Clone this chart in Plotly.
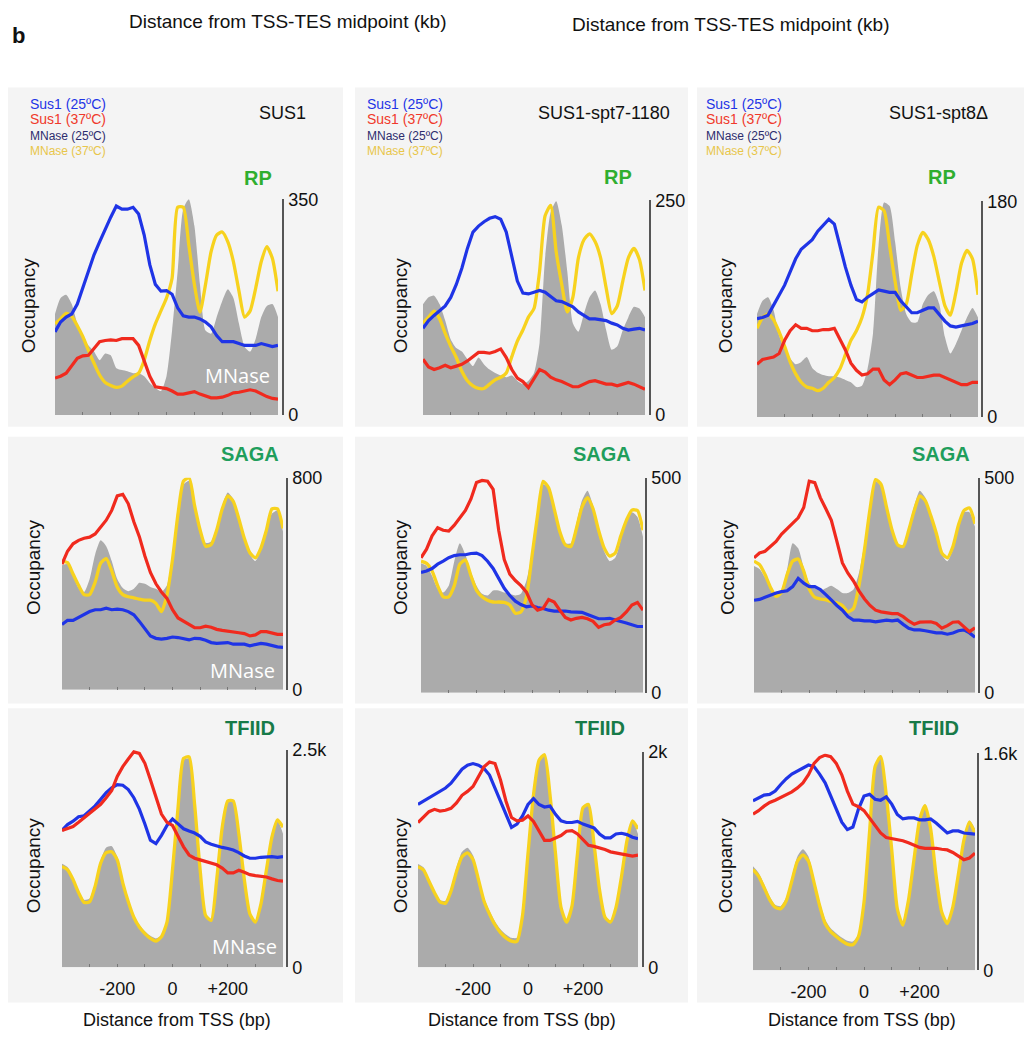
import plotly.graph_objects as go

W, H = 1024, 1043

# ---------------- data ----------------
X_BP = [-400, -380, -360, -340, -320, -300, -280, -260, -240, -220, -200, -180, -160, -140,
        -120, -100, -80, -60, -40, -20, 0, 20, 40, 60, 80, 100, 120, 140, 160, 180, 200, 220,
        240, 260, 280, 300, 320, 340, 360, 380, 400]

STRAINS = ["SUS1", "SUS1-spt7-1180", "SUS1-spt8\u0394"]
FACTORS = ["RP", "SAGA", "TFIID"]
SERIES_NAMES = ["Sus1 (25\u00baC)", "Sus1 (37\u00baC)", "MNase (25\u00baC)", "MNase (37\u00baC)"]
X_TICKS = [-300, -200, -100, 0, 100, 200, 300]
X_TICK_TEXT = ["", "-200", "", "0", "", "+200", ""]
Y_MAX = {"RP": [350, 250, 180], "SAGA": [800, 500, 500], "TFIID": [2500, 2000, 1600]}
Y_MAX_TEXT = {"RP": ["350", "250", "180"], "SAGA": ["800", "500", "500"], "TFIID": ["2.5k", "2k", "1.6k"]}

# RP / SUS1
RP_SUS1_S25 = [135, 151, 159, 164, 180, 206, 233, 260, 281, 302, 321, 339, 334, 334, 337, 326, 292, 244, 212, 201, 202, 196, 174, 161, 159, 159, 156, 151, 143, 129, 119, 119, 119, 116, 113, 113, 113, 116, 113, 111, 113]
RP_SUS1_S37 = [60, 63, 68, 81, 92, 96, 97, 108, 119, 121, 122, 121, 124, 124, 124, 113, 89, 63, 46, 44, 43, 39, 34, 34, 36, 38, 34, 31, 28, 28, 29, 32, 36, 37, 39, 41, 39, 34, 30, 27, 26]
RP_SUS1_M25 = [164, 190, 195, 180, 148, 127, 113, 103, 89, 100, 97, 76, 73, 71, 68, 68, 63, 52, 44, 39, 63, 137, 233, 334, 350, 307, 212, 137, 132, 159, 185, 204, 190, 148, 111, 103, 124, 159, 177, 180, 159]
RP_SUS1_M37 = [148, 156, 165, 160, 145, 127, 105, 84, 65, 53, 48, 45, 47, 55, 62, 68, 89, 121, 148, 169, 190, 222, 337, 337, 276, 212, 167, 212, 265, 292, 297, 281, 249, 201, 159, 169, 206, 249, 273, 254, 201]
# RP / SUS1-spt7-1180
RP_SPT7_S25 = [101, 110, 116, 122, 127, 137, 152, 171, 194, 213, 220, 225, 229, 231, 228, 213, 183, 156, 142, 141, 143, 145, 143, 138, 133, 132, 129, 126, 120, 116, 112, 112, 111, 110, 107, 105, 101, 99, 100, 101, 99]
RP_SPT7_S37 = [65, 56, 53, 55, 58, 55, 57, 59, 63, 68, 73, 73, 72, 74, 77, 67, 53, 43, 39, 32, 42, 53, 50, 44, 41, 39, 36, 33, 33, 36, 39, 40, 38, 36, 36, 34, 36, 38, 36, 33, 30]
RP_SPT7_M25 = [129, 137, 139, 129, 110, 88, 78, 74, 65, 57, 67, 59, 53, 49, 46, 44, 46, 40, 36, 40, 49, 84, 183, 236, 249, 221, 167, 107, 97, 118, 137, 145, 129, 99, 76, 80, 99, 114, 126, 124, 114]
RP_SPT7_M37 = [107, 114, 121, 112, 95, 80, 67, 51, 40, 34, 31, 31, 36, 41, 44, 49, 68, 86, 99, 114, 124, 167, 232, 244, 190, 152, 120, 137, 183, 204, 211, 202, 183, 148, 118, 127, 156, 183, 194, 181, 145]
# RP / SUS1-spt8D
RP_SPT8_S25 = [82, 83, 85, 93, 101, 110, 121, 132, 140, 144, 148, 155, 160, 165, 161, 143, 125, 110, 98, 96, 100, 103, 106, 105, 104, 104, 97, 92, 87, 87, 89, 91, 91, 85, 80, 76, 75, 76, 77, 78, 80]
RP_SPT8_S37 = [44, 48, 49, 50, 53, 64, 72, 77, 74, 74, 72, 72, 73, 73, 74, 65, 56, 45, 39, 35, 36, 40, 40, 31, 27, 31, 36, 37, 35, 33, 33, 34, 35, 35, 33, 31, 29, 27, 27, 29, 29]
RP_SPT8_M25 = [86, 97, 100, 89, 68, 57, 49, 44, 46, 50, 41, 37, 35, 34, 34, 33, 31, 29, 25, 26, 40, 70, 143, 179, 176, 146, 108, 86, 79, 79, 94, 102, 105, 94, 67, 53, 61, 72, 83, 91, 83]
RP_SPT8_M37 = [74, 83, 86, 81, 71, 59, 46, 36, 29, 25, 24, 22, 24, 29, 33, 40, 52, 64, 72, 83, 102, 138, 175, 172, 143, 113, 89, 94, 119, 143, 154, 148, 134, 113, 93, 85, 104, 128, 139, 132, 102]

# SAGA / SUS1
SAGA_SUS1_S25 = [246, 262, 262, 273, 283, 295, 302, 302, 308, 302, 304, 302, 295, 283, 258, 228, 203, 194, 191, 194, 199, 197, 191, 188, 194, 193, 187, 178, 175, 175, 178, 172, 172, 172, 166, 170, 175, 172, 166, 162, 160]
SAGA_SUS1_S37 = [474, 523, 551, 564, 572, 576, 588, 615, 640, 677, 732, 738, 702, 634, 578, 505, 443, 400, 369, 345, 302, 271, 258, 244, 234, 234, 240, 236, 228, 224, 222, 219, 215, 212, 203, 207, 219, 219, 215, 209, 209]
SAGA_SUS1_M25 = [470, 474, 431, 384, 369, 418, 511, 564, 542, 486, 418, 384, 372, 381, 404, 400, 388, 381, 369, 394, 505, 652, 775, 788, 702, 609, 554, 560, 615, 695, 745, 720, 652, 572, 511, 486, 529, 603, 665, 677, 597]
SAGA_SUS1_M37 = [486, 480, 437, 394, 359, 359, 406, 478, 495, 449, 388, 359, 351, 347, 342, 338, 338, 326, 295, 357, 492, 665, 788, 800, 695, 603, 542, 548, 603, 683, 732, 711, 646, 572, 517, 498, 535, 603, 683, 683, 609]
# SAGA / SUS1-spt7-1180
SAGA_SPT7_S25 = [280, 283, 289, 299, 306, 314, 319, 321, 321, 324, 325, 319, 306, 289, 266, 243, 226, 213, 205, 200, 202, 198, 196, 192, 190, 190, 190, 188, 187, 187, 182, 177, 172, 172, 173, 169, 166, 162, 158, 154, 154]
SAGA_SPT7_S37 = [314, 334, 365, 384, 378, 376, 390, 407, 424, 451, 489, 494, 492, 473, 378, 310, 276, 261, 249, 234, 205, 192, 196, 217, 211, 192, 175, 169, 173, 175, 172, 166, 152, 158, 160, 169, 175, 188, 204, 210, 192]
SAGA_SPT7_M25 = [301, 295, 272, 242, 233, 249, 306, 348, 321, 280, 249, 230, 226, 238, 238, 233, 230, 226, 230, 261, 325, 416, 485, 477, 424, 371, 348, 348, 394, 447, 470, 435, 378, 329, 306, 314, 356, 397, 420, 409, 363]
SAGA_SPT7_M37 = [306, 301, 283, 249, 223, 223, 249, 299, 309, 272, 238, 223, 215, 211, 211, 210, 204, 185, 188, 223, 318, 413, 492, 477, 428, 375, 344, 340, 382, 432, 454, 428, 378, 337, 318, 325, 365, 401, 425, 424, 378]
# SAGA / SUS1-spt8D
SAGA_SPT8_S25 = [215, 217, 222, 228, 232, 235, 237, 247, 266, 255, 247, 247, 240, 228, 215, 203, 192, 177, 169, 169, 167, 167, 165, 167, 169, 167, 169, 159, 150, 146, 146, 144, 141, 139, 139, 136, 139, 144, 146, 139, 129]
SAGA_SPT8_S37 = [314, 325, 329, 340, 352, 369, 382, 393, 407, 431, 492, 489, 454, 428, 401, 352, 302, 278, 260, 237, 218, 203, 192, 188, 186, 184, 184, 177, 167, 159, 164, 165, 165, 161, 150, 156, 164, 165, 154, 142, 151]
SAGA_SPT8_M25 = [295, 288, 268, 243, 232, 241, 287, 348, 336, 291, 256, 243, 237, 243, 249, 241, 232, 232, 240, 279, 348, 431, 492, 481, 431, 378, 344, 344, 386, 435, 470, 454, 416, 371, 321, 306, 333, 386, 420, 420, 386]
SAGA_SPT8_M37 = [306, 298, 275, 245, 224, 234, 275, 306, 311, 283, 241, 222, 218, 216, 212, 209, 203, 188, 196, 249, 333, 428, 496, 485, 431, 378, 344, 340, 378, 424, 458, 447, 412, 371, 325, 314, 340, 390, 424, 430, 393]

# TFIID / SUS1
TFIID_SUS1_S25 = [1571, 1639, 1677, 1729, 1740, 1797, 1853, 1928, 2004, 2060, 2098, 2090, 2041, 1947, 1816, 1646, 1459, 1421, 1515, 1628, 1703, 1646, 1590, 1564, 1541, 1504, 1440, 1413, 1391, 1376, 1364, 1346, 1316, 1278, 1252, 1252, 1263, 1271, 1271, 1263, 1271]
TFIID_SUS1_S37 = [1571, 1590, 1616, 1665, 1714, 1767, 1816, 1872, 1947, 2030, 2192, 2304, 2391, 2473, 2455, 2342, 2154, 1947, 1759, 1665, 1628, 1504, 1383, 1289, 1252, 1233, 1214, 1195, 1177, 1139, 1083, 1083, 1113, 1090, 1064, 1053, 1045, 1037, 1015, 996, 989]
TFIID_SUS1_M25 = [1188, 1150, 1026, 876, 774, 790, 970, 1233, 1376, 1391, 1271, 1007, 782, 601, 489, 413, 361, 331, 368, 526, 1101, 1816, 2379, 2398, 1853, 1101, 594, 556, 1007, 1609, 1910, 1902, 1534, 1007, 613, 526, 725, 1120, 1515, 1684, 1534]
TFIID_SUS1_M37 = [1158, 1120, 1007, 857, 744, 752, 932, 1195, 1316, 1327, 1233, 970, 752, 575, 462, 387, 331, 301, 350, 519, 1120, 1834, 2398, 2417, 1872, 1120, 594, 538, 1007, 1609, 1910, 1910, 1534, 1007, 613, 519, 725, 1120, 1496, 1692, 1609]
# TFIID / SUS1-spt7-1180
TFIID_SPT7_S25 = [1509, 1539, 1576, 1606, 1630, 1661, 1706, 1767, 1836, 1873, 1888, 1873, 1842, 1782, 1661, 1539, 1403, 1297, 1327, 1403, 1509, 1564, 1509, 1485, 1494, 1418, 1358, 1342, 1342, 1352, 1327, 1312, 1291, 1236, 1200, 1200, 1236, 1242, 1230, 1206, 1191]
TFIID_SPT7_S37 = [1342, 1394, 1442, 1464, 1448, 1455, 1473, 1524, 1594, 1630, 1676, 1767, 1858, 1903, 1888, 1736, 1539, 1388, 1358, 1364, 1403, 1352, 1267, 1176, 1176, 1200, 1221, 1261, 1267, 1236, 1182, 1130, 1121, 1109, 1091, 1070, 1061, 1048, 1039, 1030, 1039]
TFIID_SPT7_M25 = [958, 927, 818, 706, 624, 615, 736, 927, 1070, 1109, 1039, 842, 645, 524, 424, 352, 303, 273, 273, 485, 1055, 1585, 1903, 1964, 1585, 1039, 555, 424, 570, 1061, 1485, 1515, 1152, 727, 473, 424, 564, 858, 1191, 1358, 1236]
TFIID_SPT7_M37 = [933, 903, 797, 691, 606, 594, 706, 888, 1024, 1061, 1000, 812, 615, 494, 394, 321, 273, 242, 242, 479, 1055, 1600, 1918, 1970, 1600, 1055, 555, 418, 570, 1055, 1479, 1509, 1145, 721, 464, 418, 555, 842, 1176, 1358, 1282]
# TFIID / SUS1-spt8D
TFIID_SPT8_S25 = [1250, 1274, 1293, 1298, 1322, 1371, 1414, 1448, 1472, 1496, 1515, 1503, 1448, 1383, 1286, 1190, 1093, 1038, 1057, 1190, 1286, 1298, 1262, 1255, 1279, 1226, 1149, 1117, 1124, 1124, 1110, 1110, 1117, 1086, 1052, 1013, 1028, 1028, 1013, 1009, 1004]
TFIID_SPT8_S37 = [1153, 1178, 1211, 1238, 1255, 1274, 1293, 1317, 1346, 1383, 1443, 1527, 1569, 1588, 1576, 1527, 1443, 1322, 1226, 1207, 1178, 1124, 1069, 1013, 980, 972, 965, 956, 941, 924, 907, 900, 900, 900, 893, 888, 869, 840, 816, 828, 864]
TFIID_SPT8_M25 = [767, 719, 635, 545, 483, 473, 538, 690, 840, 893, 840, 676, 507, 376, 309, 273, 241, 217, 212, 265, 514, 1021, 1491, 1588, 1310, 900, 466, 338, 521, 828, 1117, 1226, 1057, 707, 442, 357, 478, 719, 980, 1105, 1045]
TFIID_SPT8_M37 = [743, 695, 610, 521, 465, 454, 514, 659, 804, 852, 804, 647, 478, 345, 285, 249, 217, 193, 188, 249, 502, 1021, 1503, 1576, 1298, 888, 454, 333, 514, 816, 1105, 1214, 1045, 695, 430, 345, 466, 707, 960, 1093, 1009]

DATA = {
    ("RP", 0): (RP_SUS1_S25, RP_SUS1_S37, RP_SUS1_M25, RP_SUS1_M37),
    ("RP", 1): (RP_SPT7_S25, RP_SPT7_S37, RP_SPT7_M25, RP_SPT7_M37),
    ("RP", 2): (RP_SPT8_S25, RP_SPT8_S37, RP_SPT8_M25, RP_SPT8_M37),
    ("SAGA", 0): (SAGA_SUS1_S25, SAGA_SUS1_S37, SAGA_SUS1_M25, SAGA_SUS1_M37),
    ("SAGA", 1): (SAGA_SPT7_S25, SAGA_SPT7_S37, SAGA_SPT7_M25, SAGA_SPT7_M37),
    ("SAGA", 2): (SAGA_SPT8_S25, SAGA_SPT8_S37, SAGA_SPT8_M25, SAGA_SPT8_M37),
    ("TFIID", 0): (TFIID_SUS1_S25, TFIID_SUS1_S37, TFIID_SUS1_M25, TFIID_SUS1_M37),
    ("TFIID", 1): (TFIID_SPT7_S25, TFIID_SPT7_S37, TFIID_SPT7_M25, TFIID_SPT7_M37),
    ("TFIID", 2): (TFIID_SPT8_S25, TFIID_SPT8_S37, TFIID_SPT8_M25, TFIID_SPT8_M37),
}

# ---------------- layout (pixel geometry) ----------------
# plot area: (left, right, top, bottom, right-axis x)
PLOT_BOX = {
    ("RP", 0): (55, 278, 193, 413, 283),
    ("RP", 1): (423, 645, 194, 413, 650),
    ("RP", 2): (757, 978, 195, 415, 982),
    ("SAGA", 0): (62, 283, 477, 693, 287),
    ("SAGA", 1): (421, 643, 477, 696, 646),
    ("SAGA", 2): (754, 975, 477, 696, 979),
    ("TFIID", 0): (62, 283, 754, 976, 287),
    ("TFIID", 1): (418, 638, 756, 976, 643),
    ("TFIID", 2): (753, 975, 758, 979, 978),
}
LEFT_TICK_DIV = {"RP": [5, 5, 5], "SAGA": [5, 7, 7], "TFIID": [4, 5.57, 5]}
PANEL_COLS = [(8, 343), (355, 688), (697, 1024)]
PANEL_ROWS = [(79, 425), (435, 707), (712, 1012)]
TITLE_POS = {"RP": [(258, 171), (618, 170), (942, 170)],
             "SAGA": [(250, 453), (602, 453), (941, 453)],
             "TFIID": [(250, 732), (600, 732), (934, 732)]}
TITLE_COLOR = {"RP": "#2fae2f", "SAGA": "#1f9e5c", "TFIID": "#177a48"}
OCC_POS = {"RP": [(28, 301), (400, 301), (725, 301)],
           "SAGA": [(33, 568), (400, 568), (727, 568)],
           "TFIID": [(33, 872), (400, 872), (725, 872)]}
MNASE_POS = {"RP": (237, 373), "SAGA": (242, 673), "TFIID": (244, 955)}
XLABEL_X = [177, 522, 862]

C_BLUE, C_RED, C_GRAY, C_YEL = "#1f34e6", "#f02a1e", "#ababab", "#f7d21e"
FONT = "Liberation Sans, Arial, Helvetica, sans-serif"


def px(x):
    return x / W


def py(y):
    return 1 - y / H


fig = go.Figure()
layout = dict(width=W, height=H, margin=dict(l=0, r=0, t=0, b=0), autosize=False,
              paper_bgcolor="white", plot_bgcolor="rgba(0,0,0,0)", showlegend=False,
              font=dict(family=FONT, color="#111"))
shapes, annotations = [], []

for r, (y0, y1) in enumerate(PANEL_ROWS):
    for c, (x0, x1) in enumerate(PANEL_COLS):
        shapes.append(dict(type="rect", xref="paper", yref="paper", x0=px(x0), x1=px(x1),
                           y0=py(y1), y1=py(y0), fillcolor="#f4f4f4", line=dict(width=0),
                           layer="below"))

idx = 0
for r, fac in enumerate(FACTORS):
    for c in range(3):
        idx += 1
        s = "" if idx == 1 else str(idx)
        left, right, top, bottom, axx = PLOT_BOX[(fac, c)]
        ymax = Y_MAX[fac][c]
        s25, s37, m25, m37 = DATA[(fac, c)]
        xa, ya = "x" + s, "y" + s
        common = dict(x=X_BP, xaxis=xa, yaxis=ya, hoverinfo="skip", showlegend=False)
        fig.add_trace(go.Scatter(y=m25, mode="lines", fill="tozeroy", fillcolor=C_GRAY,
                                 line=dict(width=0, shape="spline", smoothing=0.6, color=C_GRAY),
                                 name=SERIES_NAMES[2], **common))
        fig.add_trace(go.Scatter(y=m37, mode="lines",
                                 line=dict(width=3.3, shape="spline", smoothing=0.6, color=C_YEL),
                                 name=SERIES_NAMES[3], **common))
        fig.add_trace(go.Scatter(y=s25, mode="lines", line=dict(width=3.2, color=C_BLUE),
                                 name=SERIES_NAMES[0], **common))
        fig.add_trace(go.Scatter(y=s37, mode="lines", line=dict(width=3.2, color=C_RED),
                                 name=SERIES_NAMES[1], **common))

        last_row = (r == 2)
        layout["xaxis" + s] = dict(
            domain=[px(left), px(right)], anchor=ya, range=[-400, 400],
            tickvals=X_TICKS, ticktext=X_TICK_TEXT, showticklabels=last_row,
            ticks="inside", ticklen=3, tickwidth=1, tickcolor="#777",
            showline=False, showgrid=False, zeroline=False,
            tickfont=dict(size=18, color="#111", family=FONT), ticklabelstandoff=9)
        # right labelled axis (carries the traces)
        layout["yaxis" + s] = dict(
            domain=[py(bottom), py(top)], anchor="free", position=px(axx), side="right",
            range=[0, ymax], tickvals=[0, ymax], ticktext=["0", Y_MAX_TEXT[fac][c]],
            ticks="inside", ticklen=4, tickwidth=1.5, tickcolor="#444",
            showline=True, linecolor="#555", linewidth=1.5,
            showgrid=False, zeroline=False, ticklabelstandoff=1,
            tickfont=dict(size=18, color="#111", family=FONT))
        # left minor ticks (mirrored to right edge of plot area)
        div = LEFT_TICK_DIV[fac][c]
        tv = []
        k = 1
        while k * ymax / div < ymax * 0.999:
            tv.append(k * ymax / div)
            k += 1
        layout["yaxis" + str(idx + 9)] = dict(
            overlaying=ya, anchor=xa, side="left", range=[0, ymax], tickvals=tv,
            showticklabels=False, ticks="inside", ticklen=2, tickwidth=1, tickcolor="#999",
            mirror="ticks", showline=False, showgrid=False, zeroline=False)

        tx, ty = TITLE_POS[fac][c]
        annotations.append(dict(text="<b>%s</b>" % fac, x=px(tx), y=py(ty), xref="paper", yref="paper",
                                showarrow=False, xanchor="center", yanchor="middle",
                                font=dict(size=20, color=TITLE_COLOR[fac], family=FONT)))
        ox, oy = OCC_POS[fac][c]
        annotations.append(dict(text="Occupancy", x=px(ox), y=py(oy), xref="paper", yref="paper",
                                showarrow=False, xanchor="center", yanchor="middle", textangle=-90,
                                font=dict(size=19, color="#111", family=FONT)))
        if c == 0:
            mx, my = MNASE_POS[fac]
            annotations.append(dict(text="MNase", x=px(mx), y=py(my), xref="paper", yref="paper",
                                    showarrow=False, xanchor="center", yanchor="middle",
                                    font=dict(size=20, color="white", family="Open Sans, " + FONT)))
        if last_row:
            annotations.append(dict(text="Distance from TSS (bp)", x=px(XLABEL_X[c]), y=py(1030),
                                    xref="paper", yref="paper", showarrow=False,
                                    xanchor="center", yanchor="middle",
                                    font=dict(size=18, color="#111", family=FONT)))

# strain titles and legends
STRAIN_POS = [(282, 105), (604, 105), (938, 105)]
LEGEND_RIGHT = [108, 445, 784]
LEGEND_Y = [96, 111, 128, 144]
LEGEND_COL = [C_BLUE, "#f0392b", "#2d2d6e", "#e8c64a"]
LEGEND_SIZE = [14, 14, 12, 12]
for c in range(3):
    sx, sy = STRAIN_POS[c]
    annotations.append(dict(text=STRAINS[c], x=px(sx), y=py(sy), xref="paper", yref="paper",
                            showarrow=False, xanchor="center", yanchor="middle",
                            font=dict(size=18, color="#111", family=FONT)))
    for j in range(4):
        annotations.append(dict(text=SERIES_NAMES[j], x=px(LEGEND_RIGHT[c]), y=py(LEGEND_Y[j]),
                                xref="paper", yref="paper", showarrow=False,
                                xanchor="right", yanchor="middle",
                                font=dict(size=LEGEND_SIZE[j], color=LEGEND_COL[j], family=FONT)))

# top texts
annotations.append(dict(text="<b>b</b>", x=px(18), y=py(26), xref="paper", yref="paper",
                        showarrow=False, xanchor="center", yanchor="middle",
                        font=dict(size=22, color="#111", family=FONT)))
for (tx, ty) in [(287, 12), (730, 15)]:
    annotations.append(dict(text="Distance from TSS-TES midpoint (kb)", x=px(tx), y=py(ty),
                            xref="paper", yref="paper", showarrow=False,
                            xanchor="center", yanchor="middle",
                            font=dict(size=19, color="#111", family=FONT)))

layout["shapes"] = shapes
layout["annotations"] = annotations
fig.update_layout(**layout)

# pin the figure to the top-left corner of the page (no body margin / scrollbars)
PIN_JS = ("document.documentElement.style.margin='0';document.body.style.margin='0';"
          "document.body.style.padding='0';document.body.style.overflow='hidden';"
          "var gd=document.getElementById('{plot_id}');gd.style.position='absolute';"
          "gd.style.left='0px';gd.style.top='0px';")
fig.write_html("out.html", post_script=PIN_JS, config={"displayModeBar": False})
